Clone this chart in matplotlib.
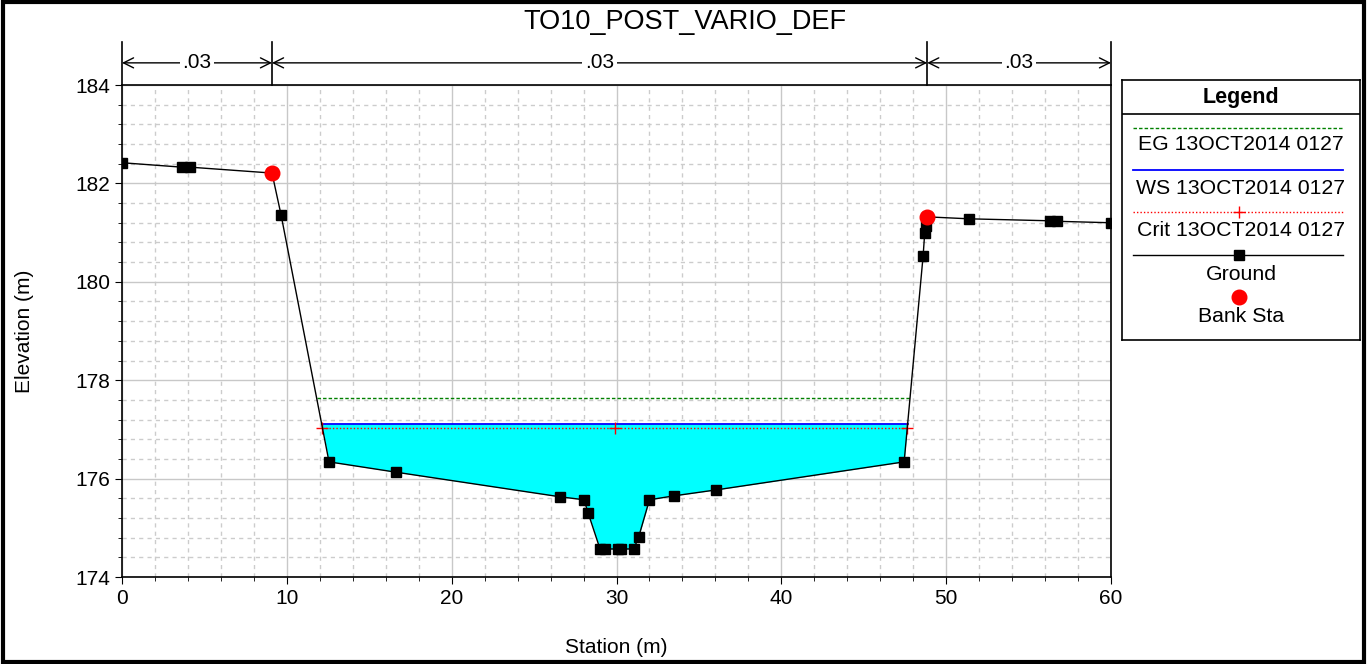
import matplotlib
matplotlib.use("Agg")
import numpy as np
import matplotlib.pyplot as plt
from matplotlib.patches import Rectangle

plt.rcParams['font.family'] = ['Liberation Sans', 'DejaVu Sans']

# ground profile
station = [0.0, 3.64, 4.13, 9.10, 9.65, 12.56, 16.63, 26.58, 28.03, 28.28,
           29.0, 29.3, 30.1, 30.3, 31.05, 31.35, 32.0, 33.5, 36.04, 47.45,
           48.6, 48.7, 48.8, 48.85, 51.4, 56.3, 56.7, 60.0]
elev = [182.42, 182.33, 182.33, 182.21, 181.36, 176.34, 176.13, 175.63, 175.57, 175.30,
        174.57, 174.57, 174.57, 174.57, 174.57, 174.82, 175.57, 175.65, 175.77, 176.34,
        180.52, 181.0, 181.13, 181.32, 181.28, 181.24, 181.23, 181.20]
bank_sta = [9.10, 48.85]
bank_elev = [182.21, 181.32]

ws_elev = 177.11
crit_elev = 177.03
eg_elev = 177.64

n_values = ['.03', '.03', '.03']
n_bounds = [0.0, 9.10, 48.85, 60.0]

title = 'TO10_POST_VARIO_DEF'
legend_labels = ['EG 13OCT2014 0127', 'WS 13OCT2014 0127', 'Crit 13OCT2014 0127',
                 'Ground', 'Bank Sta']


def crossings(x, y, level):
    # left and right stations where ground crosses a water level
    x = np.asarray(x); y = np.asarray(y)
    pts = []
    for i in range(len(x) - 1):
        if (y[i] - level) * (y[i + 1] - level) < 0:
            t = (level - y[i]) / (y[i + 1] - y[i])
            pts.append(x[i] + t * (x[i + 1] - x[i]))
    return min(pts), max(pts)


fig = plt.figure(figsize=(13.67, 6.64), dpi=100)
ax = fig.add_axes([122 / 1367, 1 - 577 / 664, 989 / 1367, 492 / 664])

# water fill
xl, xr = crossings(station, elev, ws_elev)
xf = np.concatenate([[xl], [s for s in station if xl < s < xr], [xr]])
yf = np.interp(xf, station, elev)
ax.fill_between(xf, yf, ws_elev, color='#00FFFF', lw=0, zorder=2)
ax.plot([xl, xr], [ws_elev, ws_elev], color='#0000FF', lw=1.3, zorder=3)

cl, cr_ = crossings(station, elev, crit_elev)
ax.plot([cl, cr_], [crit_elev, crit_elev], color='red', ls=(0, (1, 1.5)), lw=1, zorder=3)
ax.plot([cl, (cl + cr_) / 2, cr_], [crit_elev] * 3, ls='none', marker='+',
        color='red', ms=8, mew=1, zorder=4)

el, er = crossings(station, elev, eg_elev)
ax.plot([el, er], [eg_elev, eg_elev], color='green', ls=(0, (2.5, 1.5)), lw=1, zorder=3)

ax.plot(station, elev, color='black', lw=1, marker='s', ms=7, zorder=5)
ax.plot(bank_sta, bank_elev, ls='none', marker='o', color='red', ms=10.5, zorder=6)

ax.set_xlim(0, 60)
ax.set_ylim(174, 184)
ax.set_xticks(np.arange(0, 61, 10))
ax.set_xticks(np.arange(0, 61, 2), minor=True)
ax.set_yticks(np.arange(174, 185, 2))
ax.set_yticks(np.arange(174, 184.01, 0.4), minor=True)
ax.grid(True, which='major', color='#c8c8c8', lw=1, ls='-')
ax.grid(True, which='minor', color='#cccccc', lw=1, ls=(0, (3, 3)))
ax.set_axisbelow(True)
ax.tick_params(which='major', labelsize=15, direction='out', length=5)
ax.tick_params(which='minor', direction='out', length=3)
ax.set_xlabel('Station (m)', fontsize=15, labelpad=22)
ax.set_ylabel('Elevation (m)', fontsize=15, labelpad=30)
for s in ax.spines.values():
    s.set_linewidth(1.2)

# manning's n bar above the plot
ytop = 184.87
yarr = 184.45
for b in n_bounds:
    ax.plot([b, b], [184, ytop], color='black', lw=1.2, clip_on=False)
for i, n in enumerate(n_values):
    ax.annotate('', xy=(n_bounds[i], yarr), xytext=(n_bounds[i + 1], yarr),
                arrowprops=dict(arrowstyle='<->', lw=1, color='black',
                                shrinkA=0, shrinkB=0, mutation_scale=18),
                annotation_clip=False)
    ax.text((n_bounds[i] + n_bounds[i + 1]) / 2, yarr, n, fontsize=15,
            ha='center', va='center', clip_on=False,
            bbox=dict(facecolor='white', edgecolor='none', pad=2))

fig.text(685 / 1367, 1 - 22 / 664, title, fontsize=19.5, ha='center', va='center')

# legend box
lax = fig.add_axes([1122 / 1367, 1 - 340 / 664, 238 / 1367, 260 / 664])
lax.set_xlim(0, 238)
lax.set_ylim(260, 0)
lax.set_xticks([]); lax.set_yticks([])
for s in lax.spines.values():
    s.set_linewidth(1.2)
lax.text(119, 18, 'Legend', fontsize=15.5, fontweight='bold', ha='center', va='center')
lax.plot([0, 238], [34, 34], color='black', lw=1.2)
lax.plot([11, 221], [48, 48], color='green', ls=(0, (2.5, 1.5)), lw=1)
lax.plot([11, 221], [90, 90], color='#0000FF', lw=1.3)
lax.plot([11, 221], [132, 132], color='red', ls=(0, (1, 1.5)), lw=1)
lax.plot([117], [132], marker='+', color='red', ms=8, mew=1)
lax.plot([11, 221], [175, 175], color='black', lw=1)
lax.plot([117], [175], marker='s', color='black', ms=7)
lax.plot([117], [217], marker='o', color='red', ms=10.5)
for yy, lab in zip([65, 109, 151, 194, 237], legend_labels):
    lax.text(119, yy, lab, fontsize=15.3, ha='center', va='center')

fig.patches.append(Rectangle((0.002, 0.003), 0.996, 0.994, transform=fig.transFigure,
                             fill=False, edgecolor='black', lw=3))

fig.savefig('out.png', dpi=100)
